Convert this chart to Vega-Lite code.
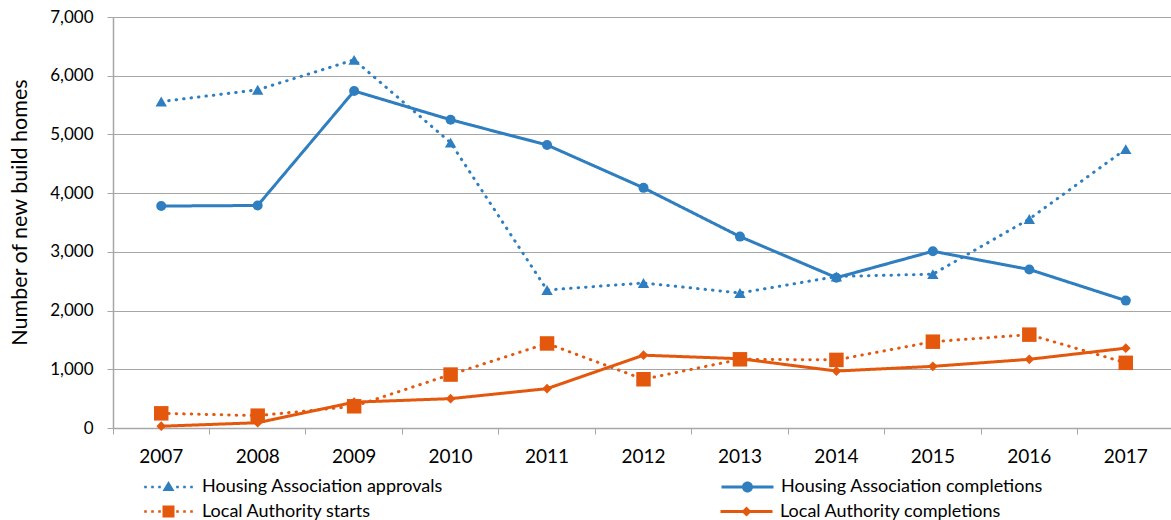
{
  "$schema": "https://vega.github.io/schema/vega-lite/v6.json",
  "autosize": {"type": "none"},
  "padding": {"left": 113, "top": 17, "right": 0, "bottom": 92},
  "width": 1058,
  "height": 411,
  "background": "white",
  "config": {
    "view": {"stroke": null},
    "font": "Lato",
    "axis": {"labelFont": "Lato", "titleFont": "Lato", "labelColor": "#000000", "titleColor": "#000000"},
    "legend": {"labelFont": "Lato"}
  },
  "data": {
    "values": [
      {"year": "2007", "series": "Housing Association approvals", "value": 5560},
      {"year": "2008", "series": "Housing Association approvals", "value": 5760},
      {"year": "2009", "series": "Housing Association approvals", "value": 6270},
      {"year": "2010", "series": "Housing Association approvals", "value": 4860},
      {"year": "2011", "series": "Housing Association approvals", "value": 2350},
      {"year": "2012", "series": "Housing Association approvals", "value": 2470},
      {"year": "2013", "series": "Housing Association approvals", "value": 2300},
      {"year": "2014", "series": "Housing Association approvals", "value": 2580},
      {"year": "2015", "series": "Housing Association approvals", "value": 2620},
      {"year": "2016", "series": "Housing Association approvals", "value": 3560},
      {"year": "2017", "series": "Housing Association approvals", "value": 4750},
      {"year": "2007", "series": "Housing Association completions", "value": 3780},
      {"year": "2008", "series": "Housing Association completions", "value": 3790},
      {"year": "2009", "series": "Housing Association completions", "value": 5740},
      {"year": "2010", "series": "Housing Association completions", "value": 5250},
      {"year": "2011", "series": "Housing Association completions", "value": 4820},
      {"year": "2012", "series": "Housing Association completions", "value": 4090},
      {"year": "2013", "series": "Housing Association completions", "value": 3260},
      {"year": "2014", "series": "Housing Association completions", "value": 2560},
      {"year": "2015", "series": "Housing Association completions", "value": 3010},
      {"year": "2016", "series": "Housing Association completions", "value": 2700},
      {"year": "2017", "series": "Housing Association completions", "value": 2170},
      {"year": "2007", "series": "Local Authority starts", "value": 250},
      {"year": "2008", "series": "Local Authority starts", "value": 210},
      {"year": "2009", "series": "Local Authority starts", "value": 370},
      {"year": "2010", "series": "Local Authority starts", "value": 910},
      {"year": "2011", "series": "Local Authority starts", "value": 1440},
      {"year": "2012", "series": "Local Authority starts", "value": 830},
      {"year": "2013", "series": "Local Authority starts", "value": 1170},
      {"year": "2014", "series": "Local Authority starts", "value": 1160},
      {"year": "2015", "series": "Local Authority starts", "value": 1470},
      {"year": "2016", "series": "Local Authority starts", "value": 1590},
      {"year": "2017", "series": "Local Authority starts", "value": 1110},
      {"year": "2007", "series": "Local Authority completions", "value": 30},
      {"year": "2008", "series": "Local Authority completions", "value": 90},
      {"year": "2009", "series": "Local Authority completions", "value": 440},
      {"year": "2010", "series": "Local Authority completions", "value": 500},
      {"year": "2011", "series": "Local Authority completions", "value": 670},
      {"year": "2012", "series": "Local Authority completions", "value": 1240},
      {"year": "2013", "series": "Local Authority completions", "value": 1180},
      {"year": "2014", "series": "Local Authority completions", "value": 970},
      {"year": "2015", "series": "Local Authority completions", "value": 1050},
      {"year": "2016", "series": "Local Authority completions", "value": 1170},
      {"year": "2017", "series": "Local Authority completions", "value": 1360}
    ]
  },
  "encoding": {
    "x": {
      "field": "year",
      "type": "ordinal",
      "scale": {"type": "band", "paddingInner": 0, "paddingOuter": 0, "range": [0, 1061]},
      "axis": {
        "title": null,
        "bandPosition": 0,
        "labelAngle": 0,
        "labelFontSize": 19,
        "labelPadding": 13,
        "tickSize": 6,
        "tickColor": "#A6A6A6",
        "domainColor": "#A6A6A6",
        "domainWidth": 1.5,
        "grid": false
      }
    },
    "y": {
      "field": "value",
      "type": "quantitative",
      "scale": {"domain": [0, 7000], "nice": false},
      "axis": {
        "values": [0, 1000, 2000, 3000, 4000, 5000, 6000, 7000],
        "format": ",.0f",
        "labelFontSize": 17,
        "labelPadding": 14,
        "tickSize": 6,
        "tickColor": "#A6A6A6",
        "domainColor": "#A6A6A6",
        "domainWidth": 1.5,
        "grid": true,
        "gridColor": "#A6A6A6",
        "gridWidth": 1.2,
        "title": "Number of new build homes",
        "titleFontSize": 21.5,
        "titleFontWeight": "normal",
        "titleAngle": -90,
        "titleX": -93,
        "titleY": 195,
        "titleAlign": "center",
        "titleBaseline": "middle"
      }
    }
  },
  "layer": [
    {
      "mark": {"type": "line", "strokeWidth": 3, "strokeCap": "round"},
      "encoding": {
        "stroke": {
          "field": "series",
          "type": "nominal",
          "scale": {
            "domain": ["Housing Association approvals", "Housing Association completions", "Local Authority starts", "Local Authority completions"],
            "range": ["#2E7EC0", "#2E7EC0", "#E4580E", "#E4580E"]
          },
          "legend": null
        },
        "strokeDash": {
          "field": "series",
          "type": "nominal",
          "scale": {
            "domain": ["Housing Association approvals", "Housing Association completions", "Local Authority starts", "Local Authority completions"],
            "range": [[0.5, 7], [1, 0], [0.5, 7], [1, 0]]
          },
          "legend": null
        }
      }
    },
    {
      "transform": [{"filter": "datum.series === 'Housing Association approvals'"}],
      "mark": {"type": "point", "filled": true, "opacity": 1, "shape": "triangle-up", "size": 130, "color": "#2E7EC0"}
    },
    {
      "transform": [{"filter": "datum.series === 'Housing Association completions'"}],
      "mark": {"type": "point", "filled": true, "opacity": 1, "shape": "circle", "size": 100, "color": "#2E7EC0"}
    },
    {
      "transform": [{"filter": "datum.series === 'Local Authority starts'"}],
      "mark": {"type": "point", "filled": true, "opacity": 1, "shape": "square", "size": 210, "color": "#E4580E"}
    },
    {
      "transform": [{"filter": "datum.series === 'Local Authority completions'"}],
      "mark": {"type": "point", "filled": true, "opacity": 1, "shape": "diamond", "size": 95, "color": "#E4580E"}
    },
    {
      "transform": [{"filter": "datum.series === 'Housing Association approvals' || datum.series === 'Housing Association completions'"}],
      "mark": {"type": "point", "filled": true, "opacity": 0, "color": "#2E7EC0"},
      "encoding": {
        "shape": {
          "field": "series",
          "type": "nominal",
          "scale": {
            "domain": ["Housing Association approvals", "Housing Association completions"],
            "range": [
              "M-24.3,-1.3H-21.7V1.3H-24.3Z M-17.3,-1.3H-14.7V1.3H-17.3Z M-10.3,-1.3H-7.7V1.3H-10.3Z M0,-6L6,4H-6Z M7.7,-1.3H10.3V1.3H7.7Z M14.7,-1.3H17.3V1.3H14.7Z M21.7,-1.3H24.3V1.3H21.7Z",
              "M-26,-1.5H26V1.5H-26Z M-5.5,0A5.5,5.5 0 1,1 5.5,0A5.5,5.5 0 1,1 -5.5,0Z"
            ]
          },
          "legend": {
            "title": null,
            "orient": "none",
            "legendX": 20.5,
            "legendY": 461,
            "columns": 2,
            "direction": "horizontal",
            "symbolSize": 4,
            "symbolStrokeWidth": 0,
            "symbolOpacity": 1,
            "symbolFillColor": "#2E7EC0",
            "symbolOffset": 26,
            "labelOffset": 24.5,
            "labelFontSize": 18,
            "labelColor": "#000000",
            "columnPadding": 269,
            "labelLimit": 400
          }
        }
      }
    },
    {
      "transform": [{"filter": "datum.series === 'Local Authority starts' || datum.series === 'Local Authority completions'"}],
      "mark": {"type": "point", "filled": true, "opacity": 0, "color": "#E4580E"},
      "encoding": {
        "shape": {
          "field": "series",
          "type": "nominal",
          "scale": {
            "domain": ["Local Authority starts", "Local Authority completions"],
            "range": [
              "M-24.3,-1.3H-21.7V1.3H-24.3Z M-17.3,-1.3H-14.7V1.3H-17.3Z M-10.3,-1.3H-7.7V1.3H-10.3Z M-6,-6H6V6H-6Z M7.7,-1.3H10.3V1.3H7.7Z M14.7,-1.3H17.3V1.3H14.7Z M21.7,-1.3H24.3V1.3H21.7Z",
              "M-26,-1.5H26V1.5H-26Z M0,-5L5,0L0,5L-5,0Z"
            ]
          },
          "legend": {
            "title": null,
            "orient": "none",
            "legendX": 20.5,
            "legendY": 485.5,
            "columns": 2,
            "direction": "horizontal",
            "symbolSize": 4,
            "symbolStrokeWidth": 0,
            "symbolOpacity": 1,
            "symbolFillColor": "#E4580E",
            "symbolOffset": 26,
            "labelOffset": 24.5,
            "labelFontSize": 18,
            "labelColor": "#000000",
            "columnPadding": 340,
            "labelLimit": 400
          }
        }
      }
    }
  ],
  "resolve": {"scale": {"shape": "independent"}, "legend": {"shape": "independent"}}
}
